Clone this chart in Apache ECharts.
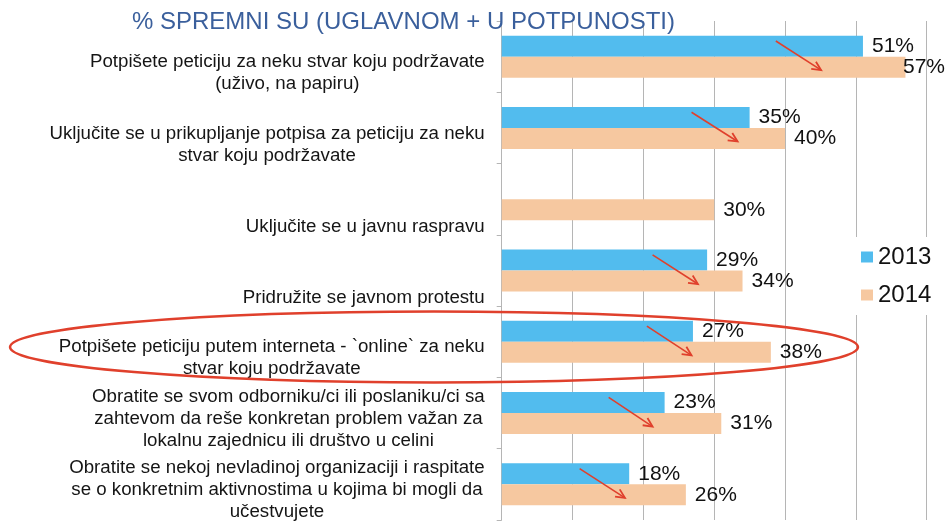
<!DOCTYPE html>
<html>
<head>
<meta charset="utf-8">
<script src="https://cdn.jsdelivr.net/npm/echarts@6/dist/echarts.min.js"></script>
<style>
html,body{margin:0;padding:0;background:#fff;}
#chart{width:946px;height:521px;}
</style>
</head>
<body>
<div id="chart"></div>
<script>
// ---- data ----
const titleText = '% SPREMNI SU (UGLAVNOM + U POTPUNOSTI)';
const categories = [
  'Potpišete peticiju za neku stvar koju podržavate\n(uživo, na papiru)',
  'Uključite se u prikupljanje potpisa za peticiju za neku\nstvar koju podržavate',
  'Uključite se u javnu raspravu',
  'Pridružite se javnom protestu',
  'Potpišete peticiju putem interneta - `online` za neku\nstvar koju podržavate',
  'Obratite se svom odborniku/ci ili poslaniku/ci sa\nzahtevom da reše konkretan problem važan za\nlokalnu zajednicu ili društvo u celini',
  'Obratite se nekoj nevladinoj organizaciji i raspitate\nse o konkretnim aktivnostima u kojima bi mogli da\nučestvujete'
];
const seriesNames = ['2013', '2014'];
const values2013 = [51, 35, null, 29, 27, 23, 18];
const values2014 = [57, 40, 30, 34, 38, 31, 26];
// annotation arrows (value positions, drawn from 2013 bar to 2014 bar)
const arrowFrom = [38.7, 26.8, null, 21.3, 20.5, 15.1, 11.0];
const arrowTo   = [45.1, 33.3, null, 27.7, 26.8, 21.3, 17.4];
const xMin = 0, xMax = 60, xInterval = 10;

// ---- chart ----
const FONT = '"Liberation Sans", Arial, Helvetica, sans-serif';
const BLUE = '#52bcee', PEACH = '#f6c8a0', RED = '#e0402c', GRID = '#b5b5b5';

const chart = echarts.init(document.getElementById('chart'), null, {renderer: 'canvas'});

const arrowData = [];
arrowFrom.forEach((v, i) => {
  if (v != null && arrowTo[i] != null) arrowData.push([v, arrowTo[i], i]);
});

function labelFormatter(v) {
  const lines = v.split('\n');
  while (lines.length < 3) lines.unshift(' ');
  return lines.map(l => '{c|' + l + '}').join('\n');
}

function keepInside(p) {
  const r = p.labelRect; const lim = 945;
  if (r.x + r.width > lim) return {dx: lim - (r.x + r.width)};
  return {};
}

const barLabel = {show: true, position: 'right', distance: 9, formatter: '{c}%',
  fontFamily: FONT, fontSize: 21, color: '#111', offset: [0, 3]};

const option = {
  animation: false,
  backgroundColor: '#fff',
  textStyle: {fontFamily: FONT},
  title: {
    text: titleText,
    left: 132, top: 10, padding: 0,
    textStyle: {fontFamily: FONT, fontSize: 24, fontWeight: 'normal', color: '#3a5f9c'}
  },
  legend: {
    data: seriesNames,
    orient: 'vertical',
    left: 850, top: 237,
    padding: [7, 10, 7, 11],
    backgroundColor: '#fff',
    icon: 'rect',
    itemWidth: 12, itemHeight: 11, itemGap: 12,
    textStyle: {fontFamily: FONT, fontSize: 24, lineHeight: 26, color: '#111'}
  },
  grid: {left: 501.7, top: 21, right: 19.3, bottom: -4, containLabel: false},
  xAxis: {
    type: 'value', min: xMin, max: xMax, interval: xInterval,
    axisLine: {show: false}, axisTick: {show: false}, axisLabel: {show: false},
    splitLine: {show: true, lineStyle: {color: GRID, width: 1}}
  },
  yAxis: {
    type: 'category', inverse: true, data: categories,
    axisLine: {show: true, lineStyle: {color: GRID, width: 1}},
    axisTick: {show: true, length: 5, lineStyle: {color: GRID}},
    axisLabel: {
      interval: 0, margin: 17, align: 'right', verticalAlign: 'middle',
      padding: [11, 0, 0, 0],
      formatter: labelFormatter,
      rich: {c: {fontFamily: FONT, fontSize: 18.7, lineHeight: 22, color: '#151515', align: 'center'}}
    }
  },
  series: [
    {
      name: seriesNames[0], type: 'bar', data: values2013,
      barWidth: 21, barGap: '0%',
      itemStyle: {color: BLUE},
      label: barLabel,
      labelLayout: keepInside
    },
    {
      name: seriesNames[1], type: 'bar', data: values2014,
      barWidth: 21, barGap: '0%',
      itemStyle: {color: PEACH},
      label: barLabel,
      labelLayout: keepInside
    },
    {
      name: 'arrows', type: 'custom', coordinateSystem: 'cartesian2d',
      data: arrowData, encode: {x: [0, 1], y: 2}, z: 5, silent: true,
      renderItem: function (params, api) {
        const idx = api.value(2);
        const p1 = api.coord([api.value(0), idx]);
        const p2 = api.coord([api.value(1), idx]);
        const band = api.size([0, 1])[1];
        const x1 = p1[0], y1 = p1[1] - band * 0.22;
        const x2 = p2[0], y2 = p2[1] + band * 0.19;
        const ang = Math.atan2(y2 - y1, x2 - x1);
        const L = 10, a = Math.PI / 7;
        const w1 = [x2 - L * Math.cos(ang - a), y2 - L * Math.sin(ang - a)];
        const w2 = [x2 - L * Math.cos(ang + a), y2 - L * Math.sin(ang + a)];
        return {
          type: 'group',
          children: [
            {type: 'line', shape: {x1: x1, y1: y1, x2: x2, y2: y2},
              style: {stroke: RED, lineWidth: 1.6}},
            {type: 'polyline', shape: {points: [w1, [x2, y2], w2]},
              style: {stroke: RED, fill: null, lineWidth: 1.8, lineJoin: 'miter'}}
          ]
        };
      }
    }
  ],
  graphic: [
    {type: 'ellipse', z: 100, silent: true,
      shape: {cx: 434, cy: 347, rx: 424, ry: 35.5},
      style: {fill: null, stroke: RED, lineWidth: 2.5}}
  ]
};

chart.setOption(option);
</script>
</body>
</html>
